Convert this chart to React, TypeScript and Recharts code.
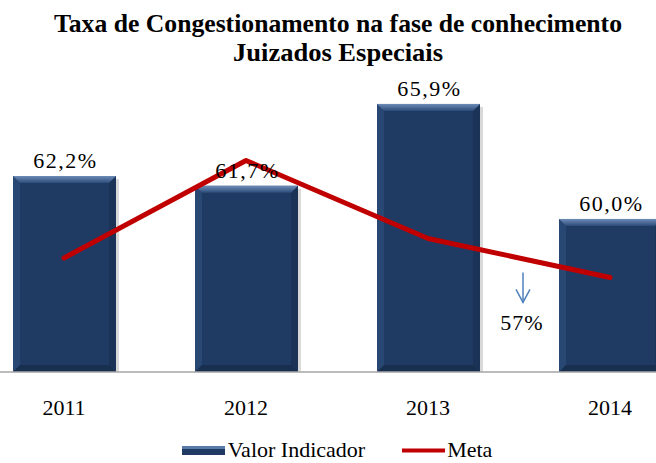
import React from 'react';
import { ComposedChart, Bar, Line, XAxis, YAxis, Legend, LabelList } from 'recharts';

const years = ['2011', '2012', '2013', '2014'];
const valorIndicador = [62.2, 61.7, 65.9, 60.0];
const meta = [58, 63, 59, 57];

const data = years.map((year, i) => ({ year, valor: valorIndicador[i], meta: meta[i] }));

const SERIF = "'Liberation Serif', 'Times New Roman', Times, serif";
const NAVY = '#1F3B63';
const RED = '#C00000';
const txt = { fontFamily: SERIF, fontSize: 22 };

const fmtPct = (v: any) => `${Number(v).toFixed(1).replace('.', ',')}%`;

// bevelled bar like the Office "bevel" effect
function BevelBar(props: any) {
  const { x, y, width, height, index } = props;
  if (!height || height <= 0) return null;
  const b = 7;
  const id = `bevTop${index}`;
  return (
    <g>
      <defs>
        <linearGradient id={id} x1="0" y1="0" x2="0" y2="1">
          <stop offset="0%" stopColor="#6d8cb8" />
          <stop offset="100%" stopColor="#2c4b78" />
        </linearGradient>
      </defs>
      <rect x={x + 3} y={y + 3} width={width} height={height - 2} fill="#000" opacity={0.15} />
      <rect x={x} y={y} width={width} height={height} fill={NAVY} />
      <polygon points={`${x},${y} ${x + b},${y + b} ${x + b},${y + height - b} ${x},${y + height}`} fill="#284873" />
      <polygon points={`${x + width},${y} ${x + width - b},${y + b} ${x + width - b},${y + height - b} ${x + width},${y + height}`} fill="#1a3356" />
      <polygon points={`${x},${y + height} ${x + b},${y + height - b} ${x + width - b},${y + height - b} ${x + width},${y + height}`} fill="#182f50" />
      <polygon points={`${x},${y} ${x + width},${y} ${x + width - b},${y + b} ${x + b},${y + b}`} fill={`url(#${id})`} />
    </g>
  );
}

function YearTick({ x, y, payload }: any) {
  return (
    <text x={x} y={y} dy={43} textAnchor="middle" style={txt} fill="#000">
      {payload.value}
    </text>
  );
}

function BarLabel({ x, y, width, value }: any) {
  return (
    <text x={x + width / 2 + 1} y={y - 8} textAnchor="middle" style={{ ...txt, letterSpacing: 1.5 }} fill="#000">
      {fmtPct(value)}
    </text>
  );
}

function MetaNote(props: any) {
  const { x, y, index, value } = props;
  if (index !== meta.length - 1) return null;
  const ax = x - 87;
  return (
    <g>
      <line x1={ax} y1={y - 5} x2={ax} y2={y + 25} stroke="#4F81BD" strokeWidth={1.5} />
      <polyline points={`${ax - 7},${y + 12} ${ax},${y + 25} ${ax + 7},${y + 12}`} fill="none" stroke="#4F81BD" strokeWidth={1.5} />
      <text x={ax - 1} y={y + 53} textAnchor="middle" style={{ ...txt, letterSpacing: 1 }} fill="#000">
        {value}%
      </text>
    </g>
  );
}

function LegendBox() {
  return (
    <div
      style={{
        height: 51,
        boxSizing: 'border-box',
        paddingTop: 24,
        display: 'flex',
        justifyContent: 'center',
        fontFamily: SERIF,
        fontSize: 22,
        lineHeight: '22px',
        color: '#000',
      }}
    >
      <span style={{ display: 'inline-flex', alignItems: 'center' }}>
        <svg width={43} height={9} style={{ marginTop: 2 }}>
          <rect x={0} y={0} width={43} height={9} fill={NAVY} />
          <rect x={0} y={0} width={43} height={3} fill="#5a7aa8" />
        </svg>
        <span style={{ marginLeft: 3 }}>Valor Indicador</span>
      </span>
      <span style={{ display: 'inline-flex', alignItems: 'center', marginLeft: 37 }}>
        <svg width={43} height={9} style={{ marginTop: 2 }}>
          <line x1={0} y1={4.5} x2={43} y2={4.5} stroke={RED} strokeWidth={4} />
        </svg>
        <span style={{ marginLeft: 2 }}>Meta</span>
      </span>
    </div>
  );
}

export default function App() {
  return (
    <div style={{ position: 'absolute', left: 0, top: 0, width: 656, height: 463, overflow: 'hidden', background: '#fff' }}>
      <div style={{ position: 'absolute', left: -27, top: 0 }}>
        <ComposedChart
          width={728}
          height={463}
          data={data}
          margin={{ top: 24, right: 0, bottom: 0, left: 0 }}
          barCategoryGap={39}
        >
          <XAxis
            dataKey="year"
            height={40}
            interval={0}
            tickLine={false}
            tickSize={0}
            tickMargin={0}
            axisLine={{ stroke: '#A6A6A6', strokeWidth: 1.5 }}
            tick={<YearTick />}
          />
          <YAxis hide domain={[52.15, 70]} allowDataOverflow />
          <Legend verticalAlign="bottom" content={<LegendBox />} />
          <Bar dataKey="valor" name="Valor Indicador" fill={NAVY} barSize={103} shape={<BevelBar />} isAnimationActive={false}>
            <LabelList dataKey="valor" content={<BarLabel />} />
          </Bar>
          <Line
            dataKey="meta"
            name="Meta"
            type="linear"
            stroke={RED}
            strokeWidth={5}
            strokeLinecap="round"
            strokeLinejoin="round"
            dot={false}
            activeDot={false}
            isAnimationActive={false}
          >
            <LabelList dataKey="meta" content={<MetaNote />} />
          </Line>
        </ComposedChart>
      </div>
      <svg width={656} height={70} style={{ position: 'absolute', left: 0, top: 0 }}>
        <text x={338} y={32} textAnchor="middle" style={{ fontFamily: SERIF, fontWeight: 'bold', fontSize: 26 }} textLength={568} lengthAdjust="spacingAndGlyphs" fill="#000">
          Taxa de Congestionamento na fase de conhecimento
        </text>
        <text x={338} y={61} textAnchor="middle" style={{ fontFamily: SERIF, fontWeight: 'bold', fontSize: 26 }} textLength={210} lengthAdjust="spacingAndGlyphs" fill="#000">
          Juizados Especiais
        </text>
      </svg>
    </div>
  );
}
